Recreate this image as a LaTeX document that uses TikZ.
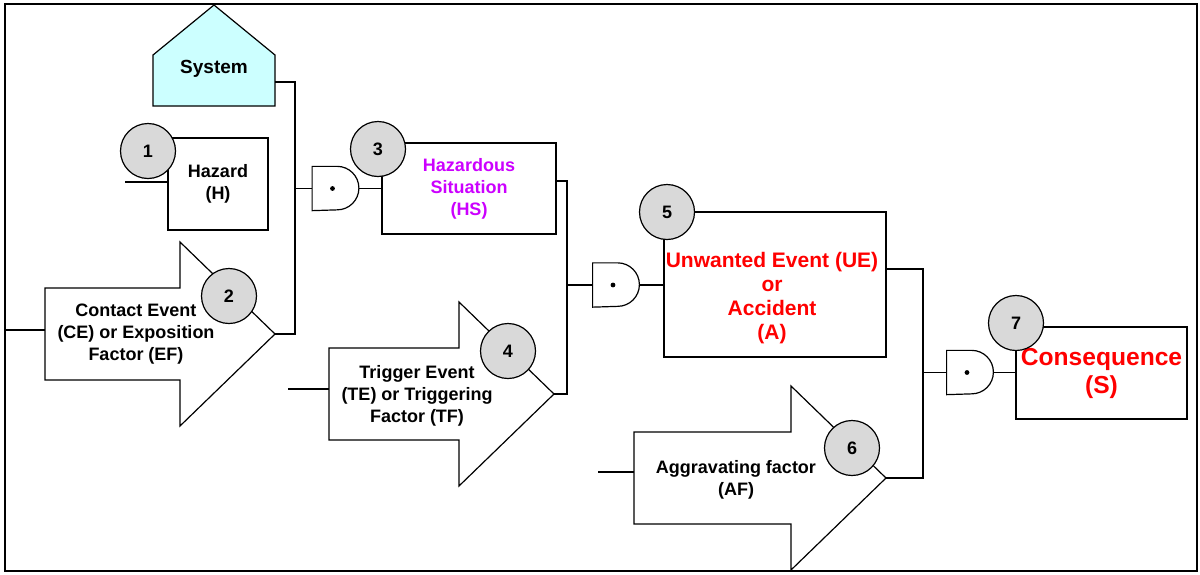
\documentclass[tikz,border=0pt]{standalone}
\usepackage{fontspec}
\setmainfont{Liberation Sans}
\usetikzlibrary{arrows}
\pgfdeclarelayer{background}
\pgfsetlayers{background,main}
\definecolor{hsviolet}{RGB}{204,0,255}
\definecolor{sysblue}{RGB}{204,255,255}
\tikzstyle{wire} = [draw, line width=0.6pt]
\tikzstyle{texto} = [inner sep=0pt, align=center,
  font=\bfseries\fontsize{9}{11}\selectfont]
\tikzstyle{event} = [texto, draw, line width=0.6pt, fill=white]
\tikzstyle{numcircle} = [texto, draw, circle, line width=0.6pt,
  fill=black!15, minimum size=27.5pt]
\tikzstyle{gatebox} = [minimum width=23pt, minimum height=21.75pt, inner sep=0pt]
% factor arrow: name, tip, body length
\newcommand{\factor}[3]{%
  \coordinate (#1) at #2;
  \path[wire, fill=white] (#1) -- ++(-95,-92) -- ++(0,46) -- ++(-#3,0)
    -- ++(0,92) -- ++(#3,0) -- ++(0,46) -- cycle;
  \coordinate (#1 tail) at ([shift={(-95-#3,0)}]#1);}
% AND gate: name, centre
\newcommand{\andgate}[2]{%
  \node (#1) [gatebox] at #2 {};
  \path[wire] (#1.north west) -- ([xshift=-10.875pt]#1.north east)
    arc[start angle=90, end angle=-90, radius=10.875pt]
    -- (#1.south west) -- cycle;
  \fill ([xshift=-1.5pt]#1.center) circle[radius=1.2pt];}

\begin{document}
\begin{tikzpicture}[x=0.5pt, y=-0.5pt]
  \useasboundingbox (0,0) rectangle (1200,574);
  \draw[line width=1pt] (5,4) rectangle (1197,571);

  % Draw diagram elements
  % system
  \node (SYS) [texto, font=\bfseries\fontsize{9.5}{11}\selectfont] at (214,69) {System};
  \begin{pgfonlayer}{background}
    \path[wire, fill=sysblue] ([shift={(-61,37)}]SYS.center)
      -- ([shift={(-61,-14)}]SYS.center) -- ([shift={(0,-64)}]SYS.center)
      -- ([shift={(61,-14)}]SYS.center) -- ([shift={(61,37)}]SYS.center) -- cycle;
  \end{pgfonlayer}
  \coordinate (SYS out) at ([shift={(61,13)}]SYS.center);

  % events
  \node (H) [event, minimum width=50pt, minimum height=46pt] at (218,184) {Hazard\\(H)};
  \node (HS) [event, minimum width=87pt, minimum height=45.5pt, text=hsviolet]
    at (469,188.5) {Hazardous\\Situation\\(HS)};
  \node (UE) [event, minimum width=111pt, minimum height=72.5pt] at (775,284.5) {};
  \node (UE text) [texto, text=red, font=\bfseries\fontsize{10.5}{12}\selectfont]
    at ([shift={(-3,14)}]UE.center) {Unwanted Event (UE)\\or\\Accident\\(A)};
  \node (CS) [event, minimum width=85.5pt, minimum height=46pt, text=red,
    font=\bfseries\fontsize{12.3}{14}\selectfont] at (1101.5,373) {Consequence\\(S)};

  % factors
  \factor{CE}{(275,334)}{135}
  \factor{TE}{(554,394)}{130}
  \factor{AF}{(886,478)}{157}
  \node (CE text) [texto] at (136,334) {Contact Event\\(CE) or Exposition\\Factor (EF)};
  \node (TE text) [texto] at (417,396) {Trigger Event\\(TE) or Triggering\\Factor (TF)};
  \node (AF text) [texto] at (736,480) {Aggravating factor\\(AF)};

  % gates
  \andgate{G1}{(335.5,188.5)}
  \andgate{G2}{(616,285)}
  \andgate{G3}{(970,372.5)}

  % Draw wires between elements
  \coordinate (J1) at (295,334);
  \path[wire] (SYS out) -| (J1) -- (CE);
  \path[wire] (G1.west -| J1) -- (G1.west);
  \path[wire] (G1.east) -- (G1.east -| HS.west);
  \coordinate (H src) at (125,182);
  \path[wire] (H src) -- (H src -| H.west);
  \coordinate (CE src) at (5,330);
  \path[wire] (CE src) -- (CE src -| CE tail);

  \coordinate (J2) at (567,394);
  \path[wire] ([yshift=3.75pt]HS.east) -| (J2) -- (TE);
  \path[wire] (G2.west -| J2) -- (G2.west);
  \path[wire] (G2.east) -- (G2.east -| UE.west);
  \coordinate (TE src) at (288,389);
  \path[wire] (TE src) -- (TE src -| TE tail);

  \coordinate (J3) at (923,478);
  \path[wire] ([yshift=7.75pt]UE.east) -| (J3) -- (AF);
  \path[wire] (G3.west -| J3) -- (G3.west);
  \path[wire] (G3.east) -- (G3.east -| CS.west);
  \coordinate (AF src) at (598,472);
  \path[wire] (AF src) -- (AF src -| AF tail);

  % numbers
  \node (n1) [numcircle] at (148,151) {1};
  \node (n2) [numcircle] at (229,296) {2};
  \node (n3) [numcircle] at (378,149) {3};
  \node (n4) [numcircle] at (508,351) {4};
  \node (n5) [numcircle] at (667,212) {5};
  \node (n6) [numcircle] at (852,448) {6};
  \node (n7) [numcircle] at (1016,323) {7};
\end{tikzpicture}
\end{document}
